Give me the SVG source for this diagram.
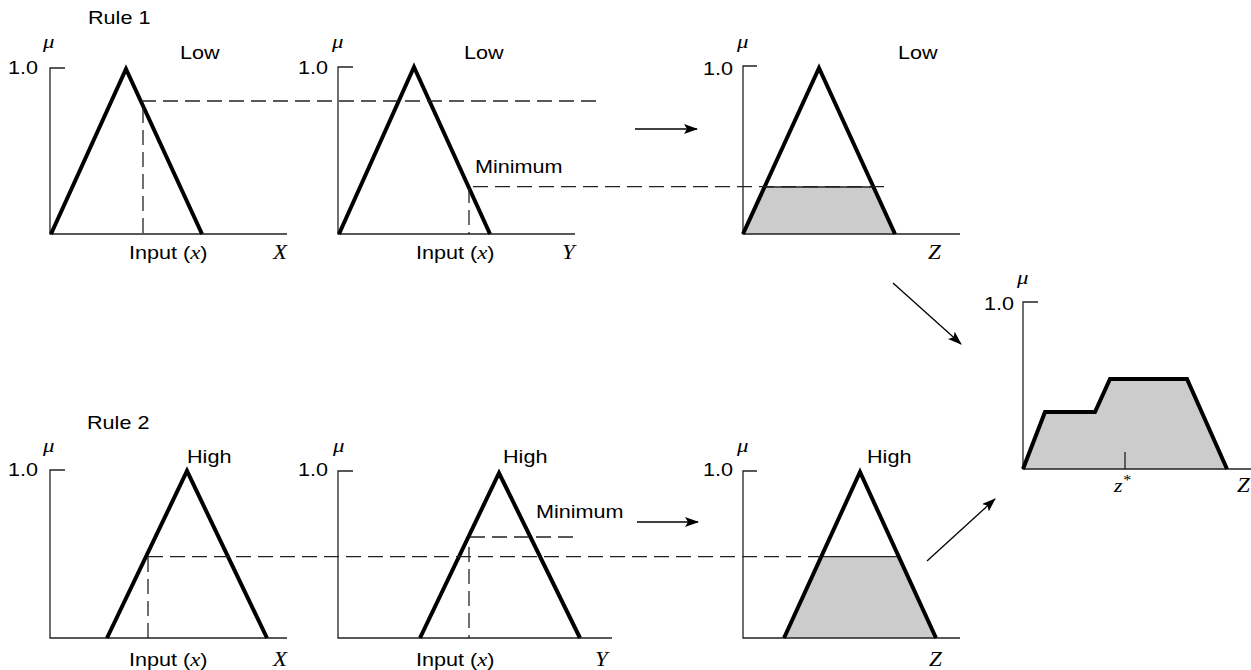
<svg xmlns="http://www.w3.org/2000/svg" width="1251" height="670" viewBox="0 0 1251 670">
<style>
.t{font-family:"Liberation Sans",Arial,sans-serif;font-size:18px;fill:#000}
.m{font-family:"Liberation Serif","Times New Roman",serif;font-style:italic;font-size:20px;fill:#000}
.xi{font-family:"Liberation Serif","Times New Roman",serif;font-style:italic;font-size:19px}
.mu{font-family:"Liberation Serif","Times New Roman",serif;font-style:italic;font-size:19px;fill:#000}
.ax{fill:none;stroke:#222;stroke-width:1.3}
.mf{fill:none;stroke:#000;stroke-width:4;stroke-linejoin:miter;stroke-miterlimit:10}
.sh{fill:#cccccc;stroke:none}
.edge{stroke:#222;stroke-width:1.3}
.dash{fill:none;stroke:#222;stroke-width:1.3;stroke-dasharray:15 7}
.arr{fill:none;stroke:#000;stroke-width:1.3}
</style>
<defs>
<marker id="ah" markerUnits="userSpaceOnUse" markerWidth="14" markerHeight="10" refX="13" refY="5" orient="auto">
<path d="M0,0 L14,5 L0,10 L3,5 Z" fill="#000"/>
</marker>
</defs>

<text class="t" transform="translate(88,24) scale(1.2,1)">Rule 1</text>
<text class="t" transform="translate(87,429) scale(1.2,1)">Rule 2</text>

<g id="r1x">
<path class="ax" d="M65,68 H50 V234 H287"/>
<path class="mf" d="M51,234 L126,69 L202,234"/>
<text class="mu" transform="translate(43,48) scale(1.2,1)">μ</text>
<text class="t" transform="translate(8,74) scale(1.2,1)">1.0</text>
<text class="t" transform="translate(180,59) scale(1.2,1)">Low</text>
<text class="t" transform="translate(129,259) scale(1.2,1)">Input (<tspan class="xi">x</tspan>)</text>
<text class="m" transform="translate(273,259) scale(1.15,1)">X</text>
</g>

<g id="r1y">
<path class="ax" d="M353,67 H338 V234 H575"/>
<path class="mf" d="M339,234 L414,67 L490,234"/>
<text class="mu" transform="translate(332,48) scale(1.2,1)">μ</text>
<text class="t" transform="translate(298,74) scale(1.2,1)">1.0</text>
<text class="t" transform="translate(464,59) scale(1.2,1)">Low</text>
<text class="t" transform="translate(475,173) scale(1.2,1)">Minimum</text>
<text class="t" transform="translate(416,259) scale(1.2,1)">Input (<tspan class="xi">x</tspan>)</text>
<text class="m" transform="translate(562,259) scale(1.15,1)">Y</text>
</g>

<g id="r1z">
<path class="sh" d="M743,234 L764.5,187 L873.5,187 L895,234 Z"/>
<path class="edge" d="M764.5,187 H873.5"/>
<path class="ax" d="M757,66 H743 V234 H960"/>
<path class="mf" d="M743,234 L819,68 L895,234"/>
<text class="mu" transform="translate(737,48) scale(1.2,1)">μ</text>
<text class="t" transform="translate(703,75) scale(1.2,1)">1.0</text>
<text class="t" transform="translate(898,59) scale(1.2,1)">Low</text>
<text class="m" transform="translate(928,259) scale(1.15,1)">Z</text>
</g>

<g id="r2x">
<path class="ax" d="M65,470 H50 V638 H287"/>
<path class="mf" d="M107,638 L187,471 L267,638"/>
<text class="mu" transform="translate(43,452) scale(1.2,1)">μ</text>
<text class="t" transform="translate(8,476) scale(1.2,1)">1.0</text>
<text class="t" transform="translate(187,463) scale(1.2,1)">High</text>
<text class="t" transform="translate(129,666) scale(1.2,1)">Input (<tspan class="xi">x</tspan>)</text>
<text class="m" transform="translate(273,666) scale(1.15,1)">X</text>
</g>

<g id="r2y">
<path class="ax" d="M353,471 H338 V638 H612"/>
<path class="mf" d="M420,638 L499,473 L580,638"/>
<text class="mu" transform="translate(333,452) scale(1.2,1)">μ</text>
<text class="t" transform="translate(298,476) scale(1.2,1)">1.0</text>
<text class="t" transform="translate(503,463) scale(1.2,1)">High</text>
<text class="t" transform="translate(536,518) scale(1.2,1)">Minimum</text>
<text class="t" transform="translate(416,666) scale(1.2,1)">Input (<tspan class="xi">x</tspan>)</text>
<text class="m" transform="translate(595,666) scale(1.15,1)">Y</text>
</g>

<g id="r2z">
<path class="sh" d="M784,638 L821.2,556.7 L898.8,556.7 L936,638 Z"/>
<path class="edge" d="M821.2,556.7 H898.8"/>
<path class="ax" d="M757,471 H743 V638 H960"/>
<path class="mf" d="M784,638 L860,472 L936,638"/>
<text class="mu" transform="translate(737,452) scale(1.2,1)">μ</text>
<text class="t" transform="translate(703,476) scale(1.2,1)">1.0</text>
<text class="t" transform="translate(867,463) scale(1.2,1)">High</text>
<text class="m" transform="translate(929,666) scale(1.15,1)">Z</text>
</g>

<g id="result">
<path class="sh" d="M1023,469 L1045,412 L1095,412 L1110,379 L1187,379 L1227,469 Z"/>
<path class="ax" d="M1038,302 H1023 V469 H1251"/>
<path class="ax" d="M1125,452 V469"/>
<path class="mf" d="M1023,469 L1045,412 L1095,412 L1110,379 L1187,379 L1227,469"/>
<text class="mu" transform="translate(1017,284) scale(1.2,1)">μ</text>
<text class="t" transform="translate(984,310) scale(1.2,1)">1.0</text>
<text class="mu" transform="translate(1114,492) scale(1.15,1)">z<tspan dy="-7" style="font-size:14px">*</tspan></text>
<text class="m" transform="translate(1237,492) scale(1.15,1)">Z</text>
</g>

<g id="connectors">
<path class="dash" d="M141,101 H601"/>
<path class="dash" d="M143,108 V234"/>
<path class="dash" d="M473,186.7 H888"/>
<path class="dash" d="M469,188 V234"/>
<path class="dash" d="M148,556.7 H821"/>
<path class="dash" d="M148,557 V638"/>
<path class="dash" d="M470,537 H577"/>
<path class="dash" d="M469,547 V638"/>
<path class="arr" d="M635,129 H697" marker-end="url(#ah)"/>
<path class="arr" d="M637,522 H698" marker-end="url(#ah)"/>
<path class="arr" d="M893,283 L961,344" marker-end="url(#ah)"/>
<path class="arr" d="M927,561 L995,499" marker-end="url(#ah)"/>
</g>
</svg>
